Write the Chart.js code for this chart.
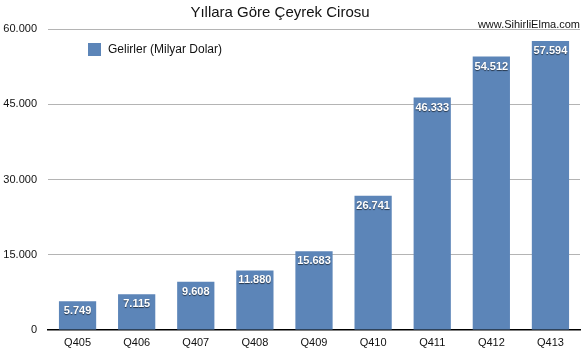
<!DOCTYPE html>
<html>
<head>
<meta charset="utf-8">
<script src="https://cdn.jsdelivr.net/npm/chart.js@4/dist/chart.umd.min.js"></script>
<style>
  html, body { margin: 0; padding: 0; background: #fff; }
  #wrap { width: 584px; height: 352px; position: relative; }
</style>
</head>
<body>
<div id="wrap"><canvas id="myChart"></canvas></div>
<script>
const quarters = ['Q405', 'Q406', 'Q407', 'Q408', 'Q409', 'Q410', 'Q411', 'Q412', 'Q413'];
const revenue = [5.749, 7.115, 9.608, 11.880, 15.683, 26.741, 46.333, 54.512, 57.594];
const yTicks = [0, 15, 30, 45, 60];
const seriesName = 'Gelirler (Milyar Dolar)';
const chartTitle = 'Yıllara Göre Çeyrek Cirosu';
const watermark = 'www.SihirliElma.com';

const barColor = 'rgb(92, 133, 184)';
const font = '"Liberation Sans", Arial, sans-serif';

// title, watermark, legend and bar values
const extras = {
    id: 'extras',
    afterDatasetsDraw(chart) {
        const ctx = chart.ctx;
        ctx.save();
        ctx.fillStyle = '#111';
        ctx.textAlign = 'center';
        ctx.textBaseline = 'middle';
        ctx.font = '15px ' + font;
        ctx.fillText(chartTitle, 280, 13);

        ctx.font = '11px ' + font;
        ctx.textAlign = 'right';
        ctx.fillText(watermark, 580, 25);

        ctx.fillStyle = barColor;
        ctx.fillRect(88, 43, 13, 13);
        ctx.fillStyle = '#111';
        ctx.textAlign = 'left';
        ctx.font = '12px ' + font;
        ctx.fillText(seriesName, 108, 50);

        const meta = chart.getDatasetMeta(0);
        ctx.font = 'bold 11px ' + font;
        ctx.textAlign = 'center';
        ctx.shadowColor = 'rgba(0,0,0,0.6)';
        ctx.shadowOffsetX = 0;
        ctx.shadowOffsetY = 1;
        ctx.shadowBlur = 1;
        ctx.fillStyle = '#fff';
        meta.data.forEach(function(bar, i) {
            ctx.fillText(revenue[i].toFixed(3), bar.x, bar.y + 10);
        });
        ctx.restore();
    }
};

new Chart(document.getElementById('myChart'), {
    type: 'bar',
    data: {
        labels: quarters,
        datasets: [{
            label: seriesName,
            data: revenue,
            backgroundColor: barColor,
            categoryPercentage: 1,
            barPercentage: 0.63
        }]
    },
    options: {
        responsive: true,
        maintainAspectRatio: false,
        animation: false,
        layout: { padding: { top: 29, right: 4, left: 0, bottom: 0 } },
        plugins: {
            legend: { display: false },
            title: { display: false },
            tooltip: { enabled: false }
        },
        scales: {
            x: {
                grid: { display: false, drawTicks: false },
                border: { display: true, color: '#000', width: 1.5 },
                ticks: { color: '#111', font: { family: font, size: 11 }, padding: 6 },
                afterFit(axis) { axis.height = 22; }
            },
            y: {
                min: 0,
                max: 60,
                afterBuildTicks(axis) { axis.ticks = yTicks.map(v => ({ value: v })); },
                grid: {
                    drawTicks: false,
                    color: ctx => ctx.tick.value === 0 ? 'rgba(0,0,0,0)' : '#b4b4b4',
                    lineWidth: 1
                },
                border: { display: false },
                ticks: {
                    color: '#111',
                    font: { family: font, size: 11 },
                    padding: 11,
                    callback: v => v === 0 ? '0' : v.toFixed(3)
                },
                afterFit(axis) { axis.width = 48; }
            }
        }
    },
    plugins: [extras]
});
</script>
</body>
</html>
